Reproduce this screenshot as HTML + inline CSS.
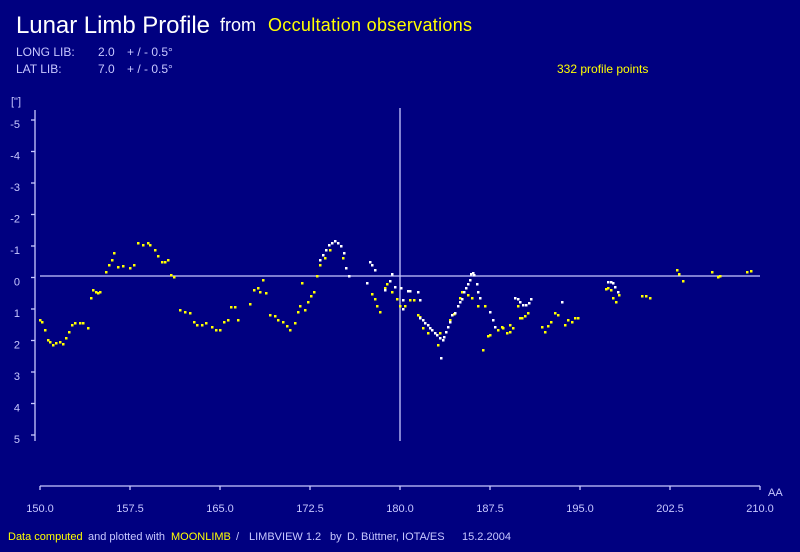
<!DOCTYPE html>
<html><head><meta charset="utf-8"><style>
html,body{margin:0;padding:0;background:#000080;}
svg{display:block;}
text{font-family:"Liberation Sans",Arial,sans-serif;}
</style></head><body>
<svg width="800" height="552" xmlns="http://www.w3.org/2000/svg">
<rect width="800" height="552" fill="#000080"/>
<text x="16" y="33" font-size="24" fill="#fff" textLength="194">Lunar Limb Profile</text>
<text x="220" y="31" font-size="18" fill="#fff">from</text>
<text x="268" y="31" font-size="18" fill="#ffff00" textLength="204">Occultation observations</text>
<g font-size="12" fill="#c8c8ff">
<text x="16" y="56">LONG LIB:</text><text x="98" y="56">2.0</text><text x="127" y="56">+ / -  0.5°</text>
<text x="16" y="73">LAT LIB:</text><text x="98" y="73">7.0</text><text x="127" y="73">+ / -  0.5°</text>
<text x="11" y="105" font-size="11">["]</text>
</g>
<text x="557" y="73" font-size="12" fill="#ffff00">332 profile points</text>
<g stroke="#c8c8ff" stroke-width="1.3" fill="none">
<line x1="35" y1="110" x2="35" y2="441"/>
<line x1="40" y1="486" x2="760" y2="486"/>
<line x1="40" y1="276" x2="760" y2="276"/>
<line x1="400" y1="108" x2="400" y2="441"/>
<g id="yt"></g><g id="xt"></g>
</g>
<g id="yl" font-size="11" fill="#c8c8ff" text-anchor="end"></g>
<g id="xl" font-size="11" fill="#c8c8ff" text-anchor="middle"></g>
<text x="768" y="496" font-size="11" fill="#c8c8ff">AA</text>
<g id="pts"></g>
<g font-size="11">
<text x="8" y="540" fill="#ffff00">Data computed</text>
<text x="88" y="540" fill="#c8c8ff">and  plotted with</text>
<text x="171" y="540" fill="#ffff00">MOONLIMB</text>
<text x="236" y="540" fill="#c8c8ff">/</text>
<text x="249" y="540" fill="#c8c8ff">LIMBVIEW 1.2</text>
<text x="330" y="540" fill="#c8c8ff">by</text>
<text x="347" y="540" fill="#c8c8ff">D. Büttner, IOTA/ES</text>
<text x="462" y="540" fill="#c8c8ff">15.2.2004</text>
</g>
</svg>
<script>
var NS="http://www.w3.org/2000/svg";
function el(p,t,a,tx){var e=document.createElementNS(NS,t);for(var k in a)e.setAttribute(k,a[k]);if(tx!==undefined)e.textContent=tx;document.getElementById(p).appendChild(e);}
var yv=["-5","-4","-3","-2","-1","0","1","2","3","4","5"];
for(var i=0;i<11;i++){var y=120+i*31.5;el("yt","line",{x1:31,y1:y,x2:35,y2:y});el("yl","text",{x:20,y:y+8},yv[i]);}
var xv=["150.0","157.5","165.0","172.5","180.0","187.5","195.0","202.5","210.0"];
for(var i=0;i<9;i++){var x=40+i*90;el("xt","line",{x1:x,y1:486,x2:x,y2:490});el("xl","text",{x:x,y:512},xv[i]);}
var Y=[[40,320],[42,322],[45,330],[48,340],[50,342],[53,345],[56,343],[60,342],[63,344],[66,338],[69,332],[72,325],[75,323],[80,323],[83,323],[88,328],[91,298],[93,290],[96,292],[98,293],[100,292],[106,272],[109,265],[112,260],[114,253],[118,267],[123,266],[130,268],[134,265],[138,243],[143,245],[148,243],[150,245],[155,250],[158,256],[162,262],[165,262],[168,260],[171,275],[174,277],[180,310],[185,312],[190,313],[194,322],[197,325],[202,325],[206,323],[212,327],[216,330],[220,330],[224,322],[228,320],[231,307],[235,307],[238,320],[250,304],[254,290],[258,288],[260,292],[263,280],[266,293],[270,315],[275,316],[278,320],[283,322],[287,326],[290,330],[295,323],[298,312],[300,306],[302,283],[305,310],[308,302],[311,296],[314,292],[317,276],[320,265],[325,258],[330,250],[343,258],
[387,284],[385,288],[372,294],[375,299],[377,306],[380,312],[392,292],[397,299],[400,306],[410,300],[414,300],[405,306],[418,315],[420,317],[423,328],[428,333],[440,333],[438,345],[443,340],[450,320],[454,314],[460,298],[462,292],[468,295],[472,298],[478,306],[485,306],[483,350],[488,336],[490,335],[498,330],[503,328],[510,325],[513,328],
[502,327],[507,333],[510,332],[520,318],[525,316],[528,313],[518,306],[522,318],[542,327],[545,332],[548,326],[551,322],[555,313],[558,315],[562,302],[565,325],[568,320],[572,322],[575,318],[578,318],
[606,289],[608,288],[611,290],[613,298],[616,302],[619,295],[642,296],[646,296],[650,298],[677,270],[679,274],[683,281],[712,272],[718,277],[720,276],[747,272],[751,271]];
var W=[[320,260],[323,255],[326,250],[329,245],[332,243],[335,241],[338,243],[341,246],[344,253],[346,268],[349,276],[370,262],[372,265],[375,270],[367,283],[392,274],[390,281],[385,290],[395,287],[401,288],[408,291],[410,291],[418,292],[420,300],[403,300],[403,309],[420,318],[423,320],[425,323],[428,325],[430,328],[432,330],[435,333],[437,335],[440,338],[443,340],[444,337],[446,332],[448,327],[450,322],[452,315],[455,313],[458,306],[460,302],[462,299],[464,292],[466,288],[468,284],[470,280],[471,274],[473,273],[474,275],[477,284],[478,292],[480,298],[490,312],[493,320],[495,327],[441,358],[515,298],[518,299],[520,302],[523,305],[526,305],[529,303],[531,299],[562,302],[608,282],[611,282],[613,283],[615,287],[618,292]];
Y.forEach(function(p){el("pts","rect",{x:p[0]-1,y:p[1]-1,width:2.5,height:2.5,fill:"#ffff00"});});
W.forEach(function(p){el("pts","rect",{x:p[0]-1,y:p[1]-1,width:2.5,height:2.5,fill:"#ffffff"});});
</script>
</body></html>
